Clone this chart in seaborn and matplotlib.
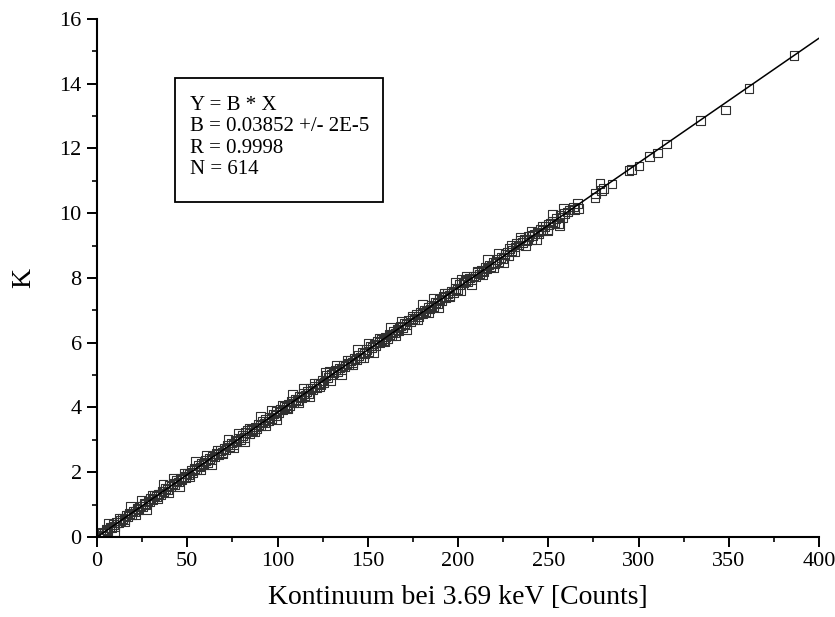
import numpy as np
import matplotlib
matplotlib.use("Agg")
import matplotlib.pyplot as plt
import seaborn as sns
from matplotlib.patches import Rectangle
from matplotlib.ticker import MultipleLocator

# Werte (Kontinuum-Counts, K)
kontinuum = [
    1.0, 2.0, 3.2, 4.0, 5.1, 6.0, 7.2, 8.1, 9.0, 9.8,
    11.0, 12.2, 13.0, 14.1, 15.3, 16.0, 17.2, 18.1, 19.0, 19.9,
    21.0, 22.1, 23.0, 24.2, 25.0, 26.1, 27.0, 28.2, 29.0, 29.8,
    31.0, 32.0, 33.1, 34.0, 35.2, 36.0, 37.1, 38.0, 39.0, 39.9,
    41.0, 42.1, 43.0, 44.2, 45.0, 46.1, 47.0, 48.2, 49.0, 49.9,
    51.0, 52.3, 53.1, 54.2, 55.0, 56.2, 57.1, 58.0, 59.2,
    60.3, 61.2, 62.1, 63.4, 64.1, 65.2, 66.3, 67.1, 68.2, 69.4,
    70.3, 71.5, 72.4, 73.3, 74.5, 75.6, 76.4, 77.5, 78.4, 79.6,
    80.5, 81.6, 82.4, 83.5, 84.6, 85.5, 86.4, 87.6, 88.5, 89.6,
    90.5, 91.7, 92.6, 93.5, 94.8, 95.6, 96.7, 97.6, 98.8, 99.6,
    100.8, 101.7, 102.9, 103.7, 104.9, 105.8, 106.9, 107.8, 108.9, 109.9,
    111.0, 112.0, 113.1, 114.2, 115.2, 116.3, 117.3, 118.4, 119.4,
    120.5, 121.5, 122.6, 123.7, 124.7, 125.8, 126.8, 127.9, 128.9, 129.9,
    131.0, 132.1, 133.2, 134.2, 135.3, 136.3, 137.4, 138.5, 139.5,
    140.6, 141.7, 142.7, 143.8, 144.9, 145.9, 147.0, 148.1, 149.1,
    150.2, 151.3, 152.3, 153.4, 154.4, 155.5, 156.6, 157.6, 158.7, 159.8,
    160.8, 161.9, 163.0, 164.0, 165.1, 166.2, 167.2, 168.3, 169.4,
    170.5, 171.5, 172.6, 173.7, 174.8, 175.8, 176.9, 178.0, 179.1,
    180.1, 181.2, 182.3, 183.4, 184.5, 185.5, 186.6, 187.7, 188.8, 189.9,
    190.9, 192.0, 193.1, 194.2, 195.3, 196.4, 197.5, 198.5, 199.6,
    200.7, 201.8, 202.9, 204.0, 205.1, 206.2, 207.3, 208.4, 209.5,
    210.6, 211.7, 212.8, 213.9, 215.0, 216.1, 217.2, 218.3, 219.4,
    220.5, 221.6, 222.7, 223.8, 224.9, 226.0, 227.1, 228.2, 229.3, 229.9,
    231.5, 232.1, 233.7, 234.3, 235.9, 237.0, 238.1, 239.2,
    240.8, 241.3, 242.5, 244.0, 244.7, 245.8, 246.9, 248.2, 249.5,
    250.2, 251.3, 252.4, 253.5, 254.3, 256.0, 256.5, 257.9, 259.0,
    260.7, 261.5, 263.8, 264.6, 266.0, 266.6, 275.9, 276.2, 278.7, 279.5, 280.4,
    285.3, 294.7, 296.2, 300.3, 306.2, 310.4, 315.6, 334.4, 348.1, 361.2, 386.1,
    # zweite, breiter streuende Punktgruppe im dichten Bereich
    3.5, 6.5, 9.5, 12.5, 15.5, 18.5, 21.5, 24.5, 27.5, 30.5,
    33.5, 36.5, 39.5, 42.5, 45.5, 48.5, 51.5, 54.5, 57.5, 60.5,
    63.5, 66.5, 69.5, 72.5, 75.5, 78.5, 81.5, 84.5, 87.5, 90.5,
    93.5, 96.5, 99.5, 102.5, 105.5, 108.5, 111.5, 114.5, 117.5, 120.5,
    123.5, 126.5, 129.5, 132.5, 135.5, 138.5, 141.5, 144.5, 147.5, 150.5,
    153.5, 156.5, 159.5, 162.5, 165.5, 168.5, 171.5, 174.5, 177.5, 180.5,
    183.5, 186.5, 189.5, 192.5, 195.5, 198.5, 201.5, 204.5, 207.5, 210.5,
    213.5, 216.5, 219.5, 222.5, 225.5, 228.5, 231.5, 234.5, 237.5, 240.5,
    243.5, 246.5, 249.5, 252.5, 255.5, 258.5,
]
k_werte = [
    0.05, 0.10, 0.15, 0.12, 0.22, 0.20, 0.30, 0.28, 0.38, 0.33,
    0.45, 0.44, 0.52, 0.58, 0.55, 0.66, 0.64, 0.72, 0.70, 0.80,
    0.78, 0.88, 0.86, 0.96, 0.93, 1.04, 1.00, 1.10, 1.08, 1.18,
    1.16, 1.27, 1.24, 1.33, 1.31, 1.42, 1.40, 1.50, 1.46, 1.58,
    1.55, 1.66, 1.62, 1.74, 1.70, 1.80, 1.78, 1.88, 1.84, 1.96,
    1.92, 2.05, 2.00, 2.12, 2.08, 2.20, 2.16, 2.27, 2.24,
    2.36, 2.30, 2.42, 2.40, 2.50, 2.47, 2.58, 2.54, 2.66, 2.62,
    2.74, 2.70, 2.84, 2.78, 2.90, 2.86, 2.99, 2.94, 3.06, 3.02,
    3.14, 3.08, 3.22, 3.30, 3.20, 3.33, 3.28, 3.40, 3.35, 3.48,
    3.44, 3.56, 3.52, 3.62, 3.58, 3.70, 3.66, 3.80, 3.76, 3.88,
    3.84, 3.95, 3.92, 4.04, 3.99, 4.10, 4.06, 4.18, 4.14, 4.24,
    4.22, 4.34, 4.30, 4.42, 4.38, 4.50, 4.44, 4.58, 4.54,
    4.66, 4.60, 4.74, 4.70, 4.84, 4.78, 5.00, 4.92, 5.10, 5.02,
    5.08, 5.16, 5.10, 5.22, 5.18, 5.30, 5.26, 5.36, 5.32,
    5.44, 5.40, 5.52, 5.48, 5.60, 5.55, 5.70, 5.66, 5.78,
    5.74, 5.90, 5.86, 5.96, 5.92, 6.04, 6.00, 6.10, 6.06, 6.18,
    6.14, 6.26, 6.22, 6.34, 6.30, 6.42, 6.38, 6.52, 6.48,
    6.60, 6.56, 6.70, 6.64, 6.76, 6.72, 6.88, 6.82, 6.94,
    6.90, 7.00, 6.96, 7.08, 7.04, 7.16, 7.12, 7.24, 7.20, 7.34,
    7.30, 7.44, 7.40, 7.52, 7.46, 7.60, 7.56, 7.68, 7.64,
    7.80, 7.96, 7.86, 7.92, 7.88, 8.00, 7.96, 8.06, 8.04,
    8.16, 8.12, 8.24, 8.20, 8.32, 8.28, 8.40, 8.36, 8.48,
    8.44, 8.56, 8.52, 8.64, 8.60, 8.72, 8.80, 8.70, 9.00, 8.86,
    8.96, 9.08, 9.02, 9.15, 9.10, 9.20, 9.16, 9.28,
    9.19, 9.32, 9.36, 9.42, 9.38, 9.50, 9.46, 9.58, 9.45,
    9.66, 9.70, 9.74, 9.70, 9.83, 9.61, 9.94, 9.86, 9.98,
    10.04, 10.10, 10.19, 10.12, 10.30, 10.14, 10.48, 10.61, 10.92, 10.70, 10.76,
    10.90, 11.31, 11.34, 11.46, 11.76, 11.86, 12.14, 12.86, 13.19, 13.86, 14.88,
    # zweite Punktgruppe
    0.03, 0.43, 0.17, 0.58, 0.48, 0.93, 0.68, 1.12, 0.86, 1.28,
    1.17, 1.63, 1.37, 1.82, 1.55, 1.97, 1.87, 2.32, 2.07, 2.51,
    2.25, 2.66, 2.56, 3.01, 2.76, 3.21, 2.94, 3.36, 3.25, 3.71,
    3.45, 3.90, 3.63, 4.05, 3.95, 4.40, 4.15, 4.59, 4.33, 4.74,
    4.64, 5.09, 4.84, 5.29, 5.02, 5.44, 5.33, 5.79, 5.53, 5.98,
    5.71, 6.13, 6.03, 6.48, 6.23, 6.67, 6.41, 6.82, 6.72, 7.17,
    6.92, 7.37, 7.10, 7.52, 7.41, 7.87, 7.61, 8.06, 7.79, 8.21,
    8.11, 8.56, 8.31, 8.75, 8.49, 8.90, 8.80, 9.25, 9.00, 9.45,
    9.18, 9.60, 9.49, 9.95, 9.69, 10.14,
]

fit_b = 0.03852
fit_text = ["Y = B * X", "B = 0.03852 +/- 2E-5", "R = 0.9998", "N = 614"]
x_ticks = [0, 50, 100, 150, 200, 250, 300, 350, 400]
y_ticks = [0, 2, 4, 6, 8, 10, 12, 14, 16]

sns.set_style("ticks")
plt.rcParams["font.family"] = ["Liberation Serif", "DejaVu Serif"]
plt.rcParams["text.color"] = "black"
plt.rcParams["axes.labelcolor"] = "black"

fig = plt.figure(figsize=(8.35, 6.17), dpi=100)
ax = fig.add_axes([0.1162, 0.1297, 0.8647, 0.8395])

sns.scatterplot(x=kontinuum, y=k_werte, marker="s", s=40, facecolors="none",
                edgecolor="#303030", linewidth=0.8, ax=ax, zorder=2)

fit_x = np.linspace(x_ticks[0], x_ticks[-1], 2)
sns.lineplot(x=fit_x, y=fit_b * fit_x, color="black", linewidth=1.1, ax=ax, zorder=3)

ax.set_xlim(x_ticks[0], x_ticks[-1])
ax.set_ylim(y_ticks[0], y_ticks[-1])
ax.set_xticks(x_ticks)
ax.set_yticks(y_ticks)
ax.xaxis.set_minor_locator(MultipleLocator(25))
ax.yaxis.set_minor_locator(MultipleLocator(1))
ax.tick_params(axis="both", which="major", direction="out", length=7, width=1.4,
               labelsize=16, pad=4, colors="black")
ax.tick_params(axis="both", which="minor", direction="out", length=3.5, width=1.4)
for side in ["left", "bottom"]:
    ax.spines[side].set_linewidth(1.5)
    ax.spines[side].set_color("black")
sns.despine(ax=ax)

ax.set_xlabel("Kontinuum bei 3.69 keV [Counts]", fontsize=20, labelpad=10)
ax.set_ylabel("K", fontsize=20, labelpad=17)

# Fit-Infobox
fig.patches.append(Rectangle((0.2096, 0.6726), 0.2491, 0.2010, transform=fig.transFigure,
                             fill=False, edgecolor="black", linewidth=1.3))
fig.text(0.2275, 0.8444, "\n".join(fit_text), fontsize=15, va="top", ha="left",
         linespacing=1.17)

fig.savefig("out.png", dpi=100)
